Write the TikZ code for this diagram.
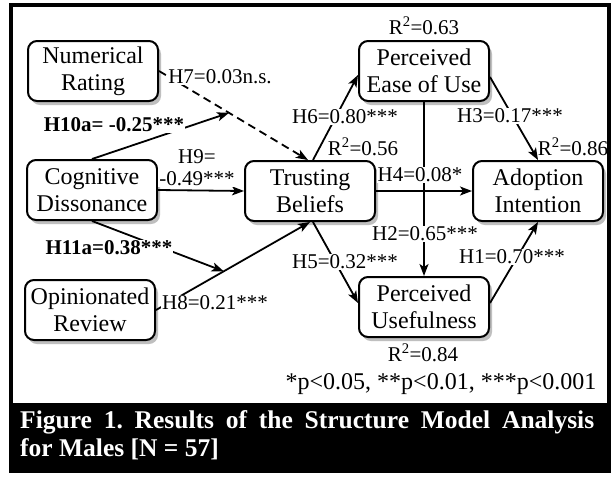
\documentclass[tikz,border=0pt]{standalone}
\usepackage{fontspec}
\setmainfont{Liberation Serif}
\usetikzlibrary{arrows.meta,shadows,calc}
\frenchspacing
\newcommand\myboxfont{\fontsize{24}{27}\selectfont}
\newcommand\mylabfont{\fontsize{21}{22}\selectfont}
\newcommand\mycapfont{\fontsize{25.5}{28}\selectfont\bfseries}
\begin{document}
\begin{tikzpicture}[x=1pt,y=-1pt,
  box/.style={draw, line width=2pt, rounded corners=9pt, minimum width=130pt,
    minimum height=60pt, align=center, font=\myboxfont, fill=white, inner sep=2pt,
    drop shadow={shadow xshift=3pt, shadow yshift=-4pt, fill=gray!50, opacity=1}},
  lab/.style={font=\mylabfont, fill=white, inner sep=1pt, align=center},
  rlab/.style={font=\mylabfont, inner sep=1pt},
  conn/.style={line width=1.8pt, -{Stealth[length=12pt,width=9pt,inset=3pt]}},
  capt/.style={font=\mycapfont, text=white, anchor=base west, inner sep=0pt}]
\useasboundingbox (0,0) rectangle (612,483);
% frame and caption band
\fill[white] (0,0) rectangle (612,483);
\draw[line width=4.5pt] (11,5) rectangle (609,471);
\fill[black] (9,403) rectangle (611,473);
% boxes
\node[box] (nr) at (93,71) {Numerical\\Rating};
\node[box] (cd) at (92,190) {Cognitive\\Dissonance};
\node[box] (or) at (90,310) {Opinionated\\Review};
\node[box] (tb) at (310,191) {Trusting\\Beliefs};
\node[box] (peou) at (424,71) {Perceived\\Ease of Use};
\node[box] (ai) at (538,191) {Adoption\\Intention};
\node[box] (pu) at (424,307) {Perceived\\Usefulness};
% moderation target points
\coordinate (m1) at ($(nr.east)!0.47!([xshift=-2pt]tb.north)$);
\coordinate (m2) at ($(or.east)!0.44!(tb.south)$);
% connectors
\draw[conn, dash pattern=on 8pt off 5pt] (nr.east) -- ([xshift=-2pt]tb.north);
\draw[conn] (or.east) -- (tb.south);
\draw[conn] (cd.north) -- (m1);
\draw[conn] (cd.south) -- (m2);
\draw[conn] (cd.east) -- (tb.west);
\draw[conn] ([xshift=3pt]tb.north) -- ($(peou.west)+(0,4)$);
\draw[conn] ([xshift=3pt]tb.south) -- ($(pu.west)+(0,-4)$);
\draw[conn] (tb.east) -- (ai.west);
\draw[conn] (peou.south) -- (pu.north);
\draw[conn] ($(peou.east)+(0,6)$) -- (ai.north);
\draw[conn] ($(pu.east)+(0,-4)$) -- (ai.south);
% labels
\node[lab] (l7) at (220,77) {H7=0.03n.s.};
\node[lab] (l10) at (114,125) {\textbf{H10a= -0.25***}};
\node[lab] (l9) at (197,168) {H9=\\-0.49***};
\node[lab] (l11) at (109,248) {\textbf{H11a=0.38***}};
\node[lab] (l8) at (215,303) {H8=0.21***};
\node[lab] (l6) at (345,117) {H6=0.80***};
\node[lab] (l5) at (345,262) {H5=0.32***};
\node[lab] (l4) at (420,175) {H4=0.08*};
\node[lab] (l2) at (425,234) {H2=0.65***};
\node[lab] (l3) at (510,116) {H3=0.17***};
\node[lab] (l1) at (512,257) {H1=0.70***};
\node[rlab] (r1) at (424,26) {R\textsuperscript{2}=0.63};
\node[rlab] (r2) at (363,147) {R\textsuperscript{2}=0.56};
\node[rlab] (r3) at (573,147) {R\textsuperscript{2}=0.86};
\node[rlab] (r4) at (423,353) {R\textsuperscript{2}=0.84};
\node[rlab, font=\fontsize{24}{26}\selectfont] (pv) at (441,384) {*p<0.05, **p<0.01, ***p<0.001};
% caption
\node[capt] (c1) at (20,428) {\makebox[574pt][s]{Figure 1. Results of the Structure Model Analysis}};
\node[capt] (c2) at (20,456) {for Males [N = 57]};
\end{tikzpicture}
\end{document}
